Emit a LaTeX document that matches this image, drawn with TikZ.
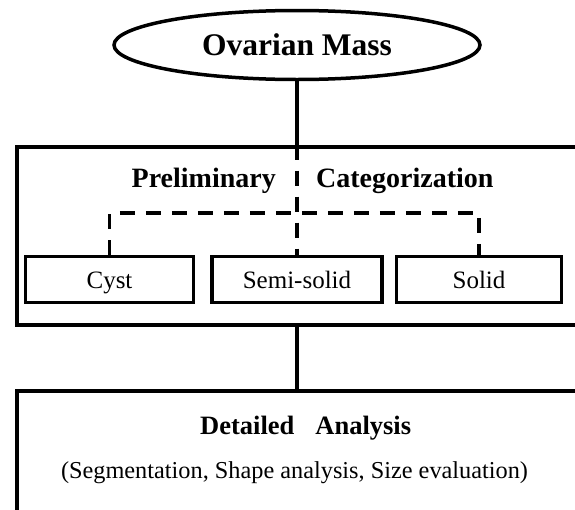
\documentclass[tikz,border=0pt]{standalone}
\usepackage{fontspec}
\setmainfont{Liberation Serif}
\usetikzlibrary{shapes.geometric, positioning, calc}

\begin{document}
\begin{tikzpicture}[x=1pt, y=-1pt,
  massnode/.style={ellipse, draw, line width=3.5pt, minimum width=366pt, minimum height=69pt, inner sep=0pt, font=\fontsize{31.5}{36}\selectfont\bfseries},
  bigbox/.style={rectangle, draw, line width=4pt, minimum width=561pt, inner sep=0pt},
  catbox/.style={rectangle, draw, line width=3.5pt, minimum height=46pt, inner sep=0pt, text height=17pt, text depth=0pt, font=\fontsize{25}{29}\selectfont},
  headtxt/.style={anchor=base, inner sep=0pt, font=\fontsize{28}{32}\selectfont\bfseries},
  subtxt/.style={anchor=base, inner sep=0pt, font=\fontsize{24.3}{28}\selectfont},
  link/.style={line width=3.5pt},
  dashlink/.style={line width=3.5pt, dash pattern=on 15pt off 11pt}
]
\useasboundingbox (0,0) rectangle (575,509);
\clip (0,0) rectangle (575,509);
% top
\node[massnode] (mass) at (297,45) {Ovarian Mass};
% preliminary box
\node[bigbox, minimum height=178pt] (prelim) at (297,235.5) {};
\node[headtxt, anchor=base east] (prelimword) at (276,187) {Preliminary};
\node[headtxt, anchor=base west] (catword) at (316,187) {Categorization};
\node[catbox, minimum width=168pt] (cyst) at (109.5,279.5) {Cyst};
\node[catbox, minimum width=170pt] (semisolid) at (297,279.5) {Semi-solid};
\node[catbox, minimum width=165pt] (solid) at (479,279.5) {Solid};
\coordinate (split) at (297,213);
% detailed box
\node[bigbox, minimum height=169pt] (detail) at (297,475.5) {};
\node[headtxt, anchor=base west, font=\fontsize{26.5}{30}\selectfont\bfseries] (detailtitle) at (200,434) {Detailed\hspace{21pt}Analysis};
\node[subtxt] (detailsub) at (294.5,478) {(Segmentation, Shape analysis, Size evaluation)};
% links
\draw[link] (mass.south) -- (prelim.north);
\draw[dashlink] (prelim.north) -- (semisolid.north);
\draw[dashlink] (cyst.north) |- (split) -| (solid.north);
\draw[link] (prelim.south) -- (detail.north);
\end{tikzpicture}
\end{document}
